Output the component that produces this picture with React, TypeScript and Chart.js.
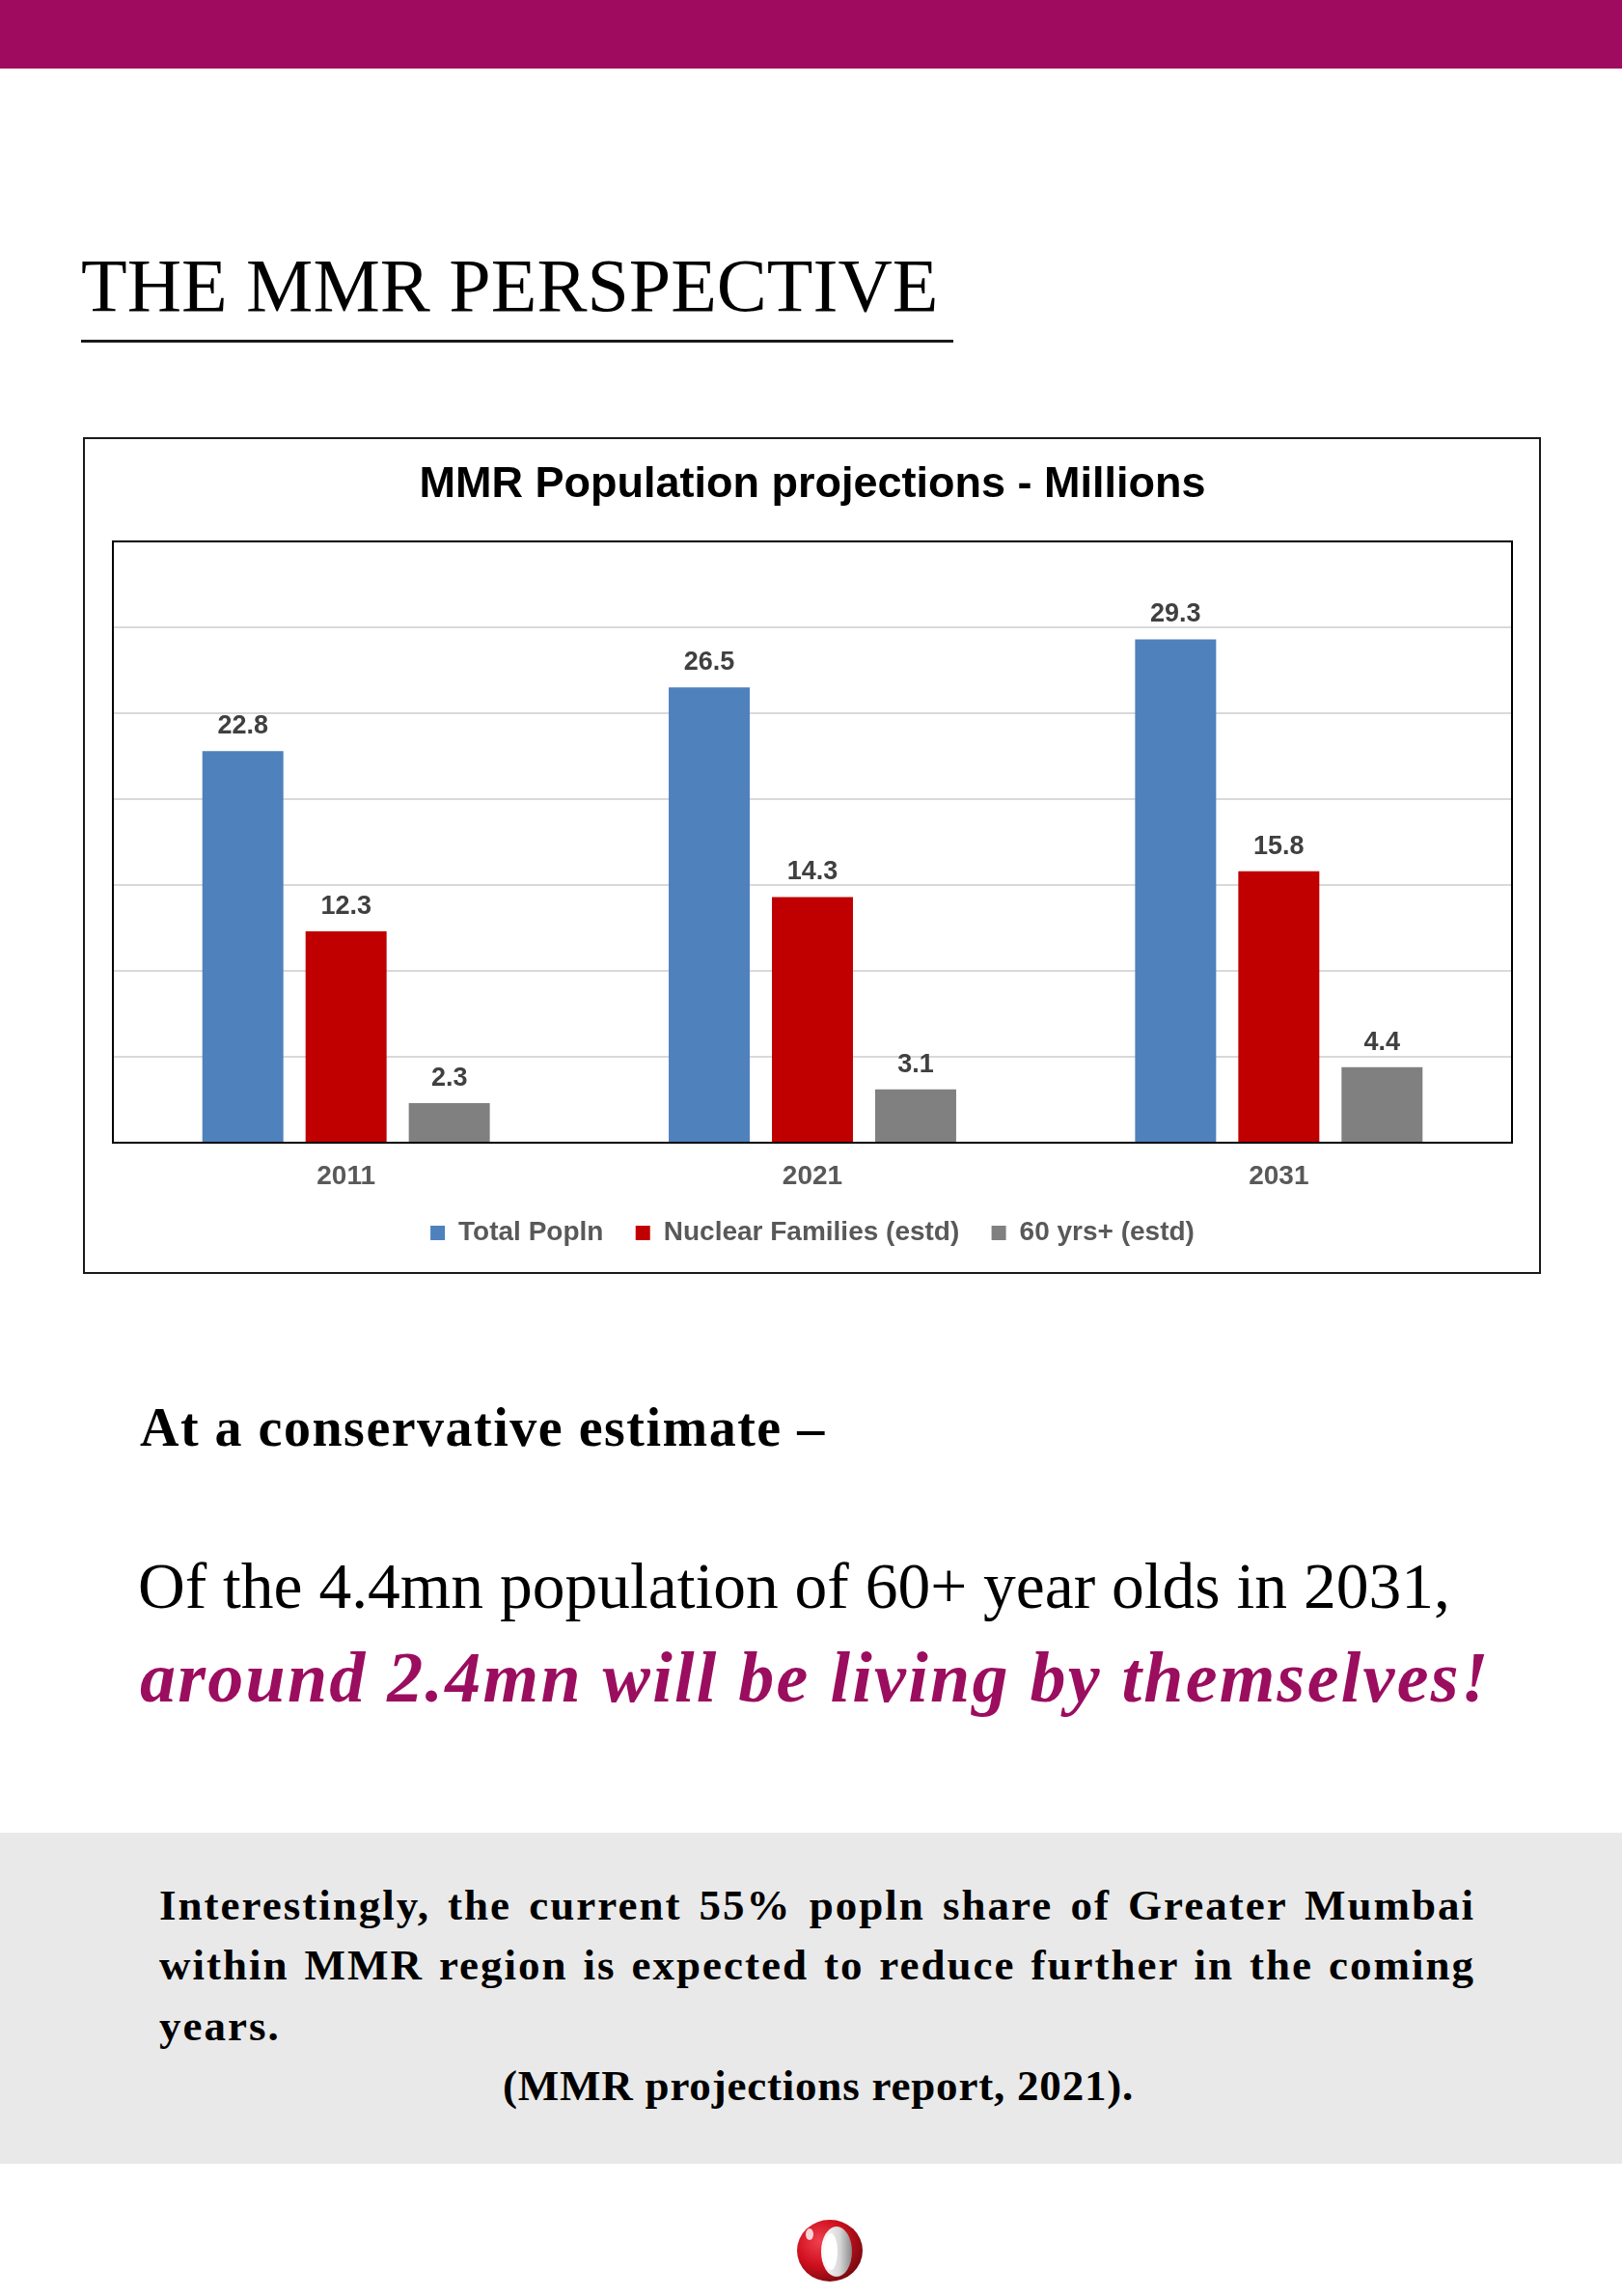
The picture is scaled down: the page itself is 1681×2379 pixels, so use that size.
import React, { useEffect, useRef } from "react";
import { Chart, registerables } from "chart.js";

Chart.register(...registerables);

const categories = ["2011", "2021", "2031"];
const seriesNames = ["Total Popln", "Nuclear Families (estd)", "60 yrs+ (estd)"];
const totalPopln = [22.8, 26.5, 29.3];
const nuclearFamilies = [12.3, 14.3, 15.8];
const seniors = [2.3, 3.1, 4.4];
const seriesColors = ["#4f81bd", "#c00000", "#808080"];
const yMax = 35;
const yStep = 5;

const dataLabelPlugin = {
  id: "dataLabels",
  afterDatasetsDraw(chart: any) {
    const ctx = chart.ctx;
    ctx.save();
    ctx.font = "bold 27px 'Liberation Sans', Arial, sans-serif";
    ctx.fillStyle = "#404040";
    ctx.textAlign = "center";
    ctx.textBaseline = "alphabetic";
    chart.data.datasets.forEach((ds: any, i: number) => {
      const meta = chart.getDatasetMeta(i);
      meta.data.forEach((bar: any, j: number) => {
        ctx.fillText(Number(ds.data[j]).toFixed(1), bar.x, bar.y - 18);
      });
    });
    ctx.restore();
  },
};

const plotBorderPlugin = {
  id: "plotBorder",
  afterDatasetsDraw(chart: any) {
    const { ctx, chartArea } = chart;
    ctx.save();
    ctx.strokeStyle = "#000000";
    ctx.lineWidth = 2;
    ctx.strokeRect(
      chartArea.left,
      chartArea.top,
      chartArea.right - chartArea.left,
      chartArea.bottom - chartArea.top
    );
    ctx.restore();
  },
};

function PopulationChart() {
  const ref = useRef<HTMLCanvasElement | null>(null);
  useEffect(() => {
    if (!ref.current) return;
    Chart.defaults.font.family = "'Liberation Sans', Arial, sans-serif";
    const chart = new Chart(ref.current, {
      type: "bar",
      data: {
        labels: categories,
        datasets: [
          { label: seriesNames[0], data: totalPopln, backgroundColor: seriesColors[0], borderWidth: 0 },
          { label: seriesNames[1], data: nuclearFamilies, backgroundColor: seriesColors[1], borderWidth: 0 },
          { label: seriesNames[2], data: seniors, backgroundColor: seriesColors[2], borderWidth: 0 },
        ],
      },
      options: {
        animation: false,
        responsive: true,
        maintainAspectRatio: false,
        devicePixelRatio: 1,
        layout: { padding: { left: 29, right: 28, top: 0, bottom: 16.5 } },
        datasets: { bar: { categoryPercentage: 0.664, barPercentage: 0.785 } },
        plugins: {
          title: {
            display: true,
            text: "MMR Population projections - Millions",
            color: "#000000",
            font: { size: 45, weight: "bold", lineHeight: 1.2 },
            padding: { top: 21, bottom: 31 },
          },
          legend: {
            display: true,
            position: "bottom",
            labels: {
              boxWidth: 15,
              boxHeight: 15,
              padding: 33.3,
              color: "#595959",
              font: { size: 28, weight: "bold" },
            },
          },
          tooltip: { enabled: false },
        },
        scales: {
          x: {
            grid: { display: false, drawTicks: false },
            border: { display: false },
            ticks: {
              color: "#595959",
              font: { size: 28, weight: "bold", lineHeight: 0.8 },
              padding: 23.8,
            },
            afterFit: (scale: any) => {
              scale.height = 46.2;
            },
          },
          y: {
            min: 0,
            max: yMax,
            grid: { color: "#d9d9d9", lineWidth: 2, drawTicks: false },
            border: { display: false },
            ticks: { display: false, stepSize: yStep },
          },
        },
      },
      plugins: [dataLabelPlugin, plotBorderPlugin],
    } as any);
    return () => chart.destroy();
  }, []);
  return (
    <div
      style={{
        position: "absolute",
        left: 86,
        top: 453,
        width: 1511,
        height: 867,
        border: "2px solid #1a1a1a",
        boxSizing: "border-box",
        background: "#ffffff",
      }}
    >
      <div style={{ position: "relative", width: 1507, height: 863 }}>
        <canvas ref={ref} />
      </div>
    </div>
  );
}

const serif = "'Liberation Serif', 'Times New Roman', serif";

export default function App() {
  const lineStyle: React.CSSProperties = {
    position: "absolute",
    left: 165,
    width: 1364,
    fontFamily: serif,
    fontWeight: "bold",
    fontSize: 45,
    lineHeight: 1,
    letterSpacing: 2,
    whiteSpace: "nowrap",
    color: "#000",
  };
  return (
    <div
      style={{
        position: "absolute",
        left: 0,
        top: 0,
        width: 1681,
        height: 2379,
        background: "#ffffff",
        overflow: "hidden",
      }}
    >
      <div style={{ position: "absolute", left: 0, top: 0, width: 1681, height: 71, background: "#9f0b5f" }} />
      <div
        style={{
          position: "absolute",
          left: 84,
          top: 256.7,
          fontFamily: serif,
          fontSize: 78,
          lineHeight: 1,
          whiteSpace: "nowrap",
          color: "#000",
        }}
      >
        THE MMR PERSPECTIVE
      </div>
      <div style={{ position: "absolute", left: 84, top: 352, width: 904, height: 2.5, background: "#1a1a1a" }} />

      <PopulationChart />

      <div
        style={{
          position: "absolute",
          left: 145,
          top: 1451,
          fontFamily: serif,
          fontWeight: "bold",
          fontSize: 56,
          lineHeight: 1,
          letterSpacing: 1.5,
          whiteSpace: "nowrap",
          color: "#000",
        }}
      >
        At a conservative estimate –
      </div>
      <div
        style={{
          position: "absolute",
          left: 143,
          top: 1609.5,
          fontFamily: serif,
          fontSize: 67.5,
          lineHeight: 1,
          whiteSpace: "nowrap",
          color: "#000",
        }}
      >
        Of the 4.4mn population of 60+ year olds in 2031,
      </div>
      <div
        style={{
          position: "absolute",
          left: 145,
          top: 1701,
          fontFamily: serif,
          fontWeight: "bold",
          fontStyle: "italic",
          fontSize: 74,
          lineHeight: 1,
          letterSpacing: 2.25,
          whiteSpace: "nowrap",
          color: "#9b0d5f",
        }}
      >
        around 2.4mn will be living by themselves!
      </div>

      <div style={{ position: "absolute", left: 0, top: 1899, width: 1681, height: 343, background: "#e9e9e9" }} />
      <div style={{ ...lineStyle, top: 1952.3, textAlign: "justify", textAlignLast: "justify" }}>
        Interestingly, the current 55% popln share of Greater Mumbai
      </div>
      <div style={{ ...lineStyle, top: 2014.3, textAlign: "justify", textAlignLast: "justify" }}>
        within MMR region is expected to reduce further in the coming
      </div>
      <div style={{ ...lineStyle, top: 2077.3 }}>years.</div>
      <div style={{ ...lineStyle, left: 448, width: 800, top: 2139.3, letterSpacing: 0.8, textAlign: "center" }}>
        (MMR projections report, 2021).
      </div>

      <svg
        style={{ position: "absolute", left: 825, top: 2299 }}
        width={72}
        height={68}
        viewBox="0 0 72 68"
      >
        <defs>
          <radialGradient id="redG" cx="35%" cy="35%" r="70%">
            <stop offset="0%" stopColor="#f04050" />
            <stop offset="55%" stopColor="#d0101e" />
            <stop offset="100%" stopColor="#7a0a10" />
          </radialGradient>
          <linearGradient id="holeG" x1="0" y1="0" x2="1" y2="0">
            <stop offset="0%" stopColor="#ffffff" />
            <stop offset="60%" stopColor="#d8d8d8" />
            <stop offset="100%" stopColor="#8a8a8a" />
          </linearGradient>
        </defs>
        <ellipse cx={35} cy={33} rx={34} ry={32} fill="url(#redG)" />
        <ellipse cx={42} cy={34} rx={16} ry={26} fill="url(#holeG)" />
        <ellipse cx={36} cy={34} rx={7} ry={19} fill="#ffffff" />
        <ellipse cx={14} cy={16} rx={4} ry={6} fill="#ffffff" opacity={0.8} />
      </svg>
    </div>
  );
}
